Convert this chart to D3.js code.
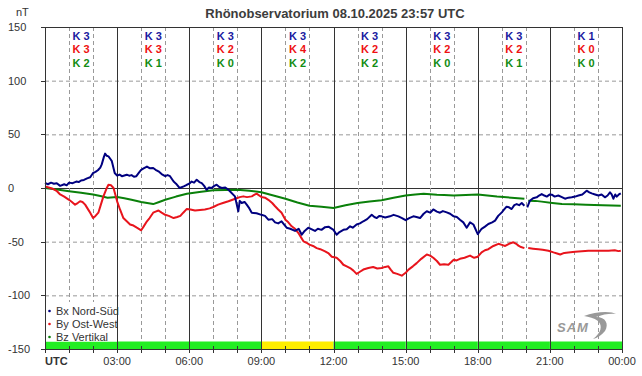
<!DOCTYPE html>
<html>
<head>
<meta charset="utf-8">
<script src="https://cdn.jsdelivr.net/npm/d3@7"></script>
<style>
  body { margin: 0; background: #fff; }
  svg { display: block; font-family: Arial, "Liberation Sans", sans-serif; }
</style>
</head>
<body>
<div class="container"></div>
<script>
// ---- data ----
const title = 'Rhönobservatorium 08.10.2025 23:57 UTC';
const hourTicks = d3.range(0, 25, 1);
const hourLabels = ['UTC', '03:00', '06:00', '09:00', '12:00', '15:00', '18:00', '21:00', '00:00'];
const valueTicks = [-150, -100, -50, 0, 50, 100, 150];

// K index per 3-hour block
const kBx = [3, 3, 3, 3, 3, 3, 3, 1];
const kBy = [3, 3, 2, 4, 2, 2, 2, 0];
const kBz = [2, 1, 0, 2, 2, 0, 1, 0];
// activity status bar per 3-hour block
const status = ['green', 'green', 'green', 'yellow', 'green', 'green', 'green', 'green'];

const seriesNames = ['Bx Nord-Süd', 'By Ost-West', 'Bz Vertikal'];

// [hour, nT]; null = data gap
const bx = [[0,4.7],[0.12,3.5],[0.25,5],[0.37,4],[0.49,4.5],[0.63,2],[0.8,3.5],[0.9,2.5],[1,5],[1.15,4.5],[1.3,6],
  [1.4,5.5],[1.5,7],[1.62,7.5],[1.75,9],[1.88,10],[2,14],[2.1,15],[2.2,16.5],[2.3,19],
  [2.36,22],[2.45,29],[2.5,32],[2.57,30],[2.64,29.5],[2.72,27],[2.78,25],[2.9,14],[3,11.5],[3.1,12.5],[3.2,11],
  [3.4,12.4],[3.5,11.5],[3.6,12],[3.7,10.5],[3.8,11],[3.9,14],[4,17],[4.12,18.5],[4.24,20],[4.35,18.5],
  [4.5,18.6],[4.6,17],[4.72,15.5],[4.85,13],[5,11],[5.1,12],[5.2,11],[5.35,6],[5.45,4],[5.6,0],[5.77,1.5],[5.9,3],
  [6,4],[6.1,6],[6.2,5],[6.31,7.7],[6.42,5.5],[6.52,4.6],[6.62,2],
  [6.72,-1.6],[6.82,0.5],[6.93,0],[7.04,2],[7.14,3],[7.25,1],[7.35,0],[7.5,0.5],[7.63,-1.6],[7.9,-7.8],[8.04,-21.8],
  [8.1,-12],[8.18,-14],[8.3,-13],[8.39,-15.5],[8.5,-19],[8.6,-23],[8.8,-23.5],
  [9,-25],[9.15,-26],[9.29,-29.5],[9.45,-29],[9.57,-32],[9.7,-33],[9.84,-31],[10.05,-37],[10.2,-38],[10.4,-40],
  [10.55,-38],[10.68,-43.5],[10.8,-40],[10.95,-37],[11.1,-38.5],[11.23,-40],[11.35,-38],
  [11.5,-39],[11.65,-36.5],[11.79,-36],[12,-39],[12.13,-43.5],[12.25,-41],[12.41,-39],[12.55,-38.5],[12.69,-35.7],
  [12.8,-37],[12.96,-34],[13.1,-33],[13.24,-31],[13.4,-29],[13.59,-25],[13.7,-27],
  [13.8,-28],[13.9,-26],[14,-26.4],[14.15,-27.5],[14.35,-26.4],[14.5,-25],[14.7,-26.4],[14.85,-28],[15,-30],
  [15.15,-28],[15.32,-26.4],[15.45,-27],[15.6,-28],[15.75,-24],[15.88,-21.7],[16.02,-23],[16.15,-20],
  [16.3,-22],[16.43,-23],[16.55,-21.5],[16.71,-22.7],[16.85,-24],[17,-26.4],[17.13,-27],[17.26,-29.5],[17.4,-32],
  [17.54,-37],[17.68,-32],[17.82,-34],[18,-43],[18.16,-38],[18.3,-36],[18.44,-33.5],
  [18.6,-32],[18.72,-30.4],[18.85,-26],[19,-22.7],[19.1,-20],[19.2,-17.4],[19.3,-18],[19.41,-19.6],[19.52,-16],
  [19.62,-15],[19.72,-16],[19.83,-14],[19.94,-16.5],[19.97,null],
  [20.06,-18],[20.17,-11.8],[20.3,-9.5],[20.45,-8.7],[20.55,-7],[20.66,-5.6],[20.77,-7],[20.87,-8],[21,-6],
  [21.08,-6.2],[21.2,-8],[21.35,-7],[21.5,-8.5],[21.63,-10],[21.77,-9],[21.91,-8.7],[22.05,-8],
  [22.19,-7],[22.35,-6],[22.53,-2.5],[22.64,-4],[22.74,-5],[22.88,-6],[23.02,-7],[23.15,-6],[23.29,-8.7],[23.4,-7],
  [23.5,-4],[23.57,-6],[23.64,-10],[23.72,-6],[23.78,-8],[23.87,-6],[23.95,-5]];

const by = [[0,1.5],[0.15,0.5],[0.35,-1],[0.5,-3],[0.63,-6],[0.8,-8],[1,-11],[1.12,-13],[1.25,-15.5],[1.36,-14],
  [1.46,-12.4],[1.56,-13],[1.67,-15.5],[1.85,-22],[2,-28],[2.1,-26],[2.22,-23],
  [2.33,-15],[2.43,-7.8],[2.55,-1],[2.64,3],[2.75,2.5],[2.85,0],[3,-12.4],[3.12,-20],[3.26,-28],[3.4,-31],[3.54,-34],
  [3.68,-35],[3.82,-37],[4,-39.4],[4.1,-36],[4.24,-31],[4.35,-28],[4.5,-23],[4.6,-22],
  [4.72,-21],[4.85,-23],[5,-25],[5.15,-26],[5.35,-28],[5.5,-27],[5.63,-26],[5.75,-23],[5.9,-19.5],[6.05,-20],
  [6.24,-21],[6.45,-20.5],[6.65,-20],[6.85,-19],[7,-17.7],[7.2,-15.5],[7.4,-14],[7.63,-12.4],
  [7.8,-11],[8,-9.3],[8.1,-8.5],[8.25,-7.8],[8.4,-8.5],[8.6,-7.8],[8.7,-6.5],[8.8,-5.3],[9,-8.4],[9.15,-9],
  [9.29,-11],[9.45,-14],[9.57,-17],[9.7,-20],[9.84,-23],[10,-29.5],[10.12,-32],[10.26,-35.7],
  [10.4,-38],[10.54,-42],[10.65,-46],[10.75,-49.7],[10.88,-51],[11,-52.8],[11.15,-54],[11.3,-56],[11.45,-57],
  [11.65,-59],[11.8,-61],[11.93,-64],[12.13,-65],[12.28,-68],[12.41,-71.5],[12.55,-73],[12.69,-74.6],
  [12.83,-77],[12.96,-80],[13.1,-78],[13.24,-76],[13.45,-74.5],[13.65,-73.6],[13.82,-75],[14,-74.6],[14.15,-73.5],
  [14.28,-73],[14.38,-76],[14.49,-79],[14.65,-80],[14.84,-81.7],[15,-79],[15.12,-76],[15.3,-73],[15.46,-70],
  [15.65,-66],[15.88,-62],[16.02,-63],[16.15,-65],[16.3,-68],[16.43,-71.5],[16.6,-71],[16.78,-71.5],[16.9,-69],
  [17,-66.8],[17.12,-67.5],[17.26,-66],[17.45,-65],[17.68,-63],[17.85,-65],[18,-64],[18.16,-60],
  [18.3,-58],[18.44,-57],[18.65,-54],[18.86,-52],[19,-53],[19.14,-54],[19.3,-52],[19.48,-50.6],[19.6,-52],
  [19.69,-53.7],[19.8,-55],[19.94,-56],[19.97,null],[20.1,-56],[20.3,-56.5],[20.52,-57],[20.7,-57.5],
  [20.94,-58.4],[21.15,-60],[21.3,-61],[21.43,-62],[21.6,-60.5],[21.77,-60],[22.05,-59.5],[22.33,-59],[22.6,-58.5],
  [22.9,-58.4],[23.15,-58.5],[23.44,-58.4],[23.7,-58],[23.85,-58.8],[23.95,-58.4]];

const bz = [[0,0],[0.5,-1.5],[1,-3],[1.5,-4.5],[2,-6],[2.3,-7.5],[2.6,-9],[3,-8.4],[3.3,-9.5],[3.6,-11],[4,-13],
  [4.25,-14],[4.5,-15],[4.75,-13],[5,-11],[5.45,-8],[5.9,-5.3],[6.5,-3.5],[7,-2.2],[7.5,-1.8],
  [8,-1.6],[8.5,-2.5],[9,-4],[9.5,-7],[10,-10],[10.5,-13.5],[11,-16.5],[11.5,-17.5],[12,-18.6],[12.5,-16],
  [13,-14],[13.5,-12.5],[14,-11.5],[14.5,-9],[15,-7],[15.4,-6],[15.75,-5.3],[16.3,-6.2],[16.6,-6.5],[17,-7],
  [17.5,-6.5],[18,-6],[18.4,-7],[18.8,-8],[19.4,-9],[19.94,-10],[19.97,null],[20.1,-11.8],[20.4,-12],[20.66,-12.7],
  [21.1,-14],[21.5,-15],[22,-15.2],[22.5,-15.5],[23.2,-16],[23.95,-16.5]];

// ---- layout ----
const W = 642, H = 376;
const colors = ['#000080', '#e8141c', '#0a800a'];
const statusColors = { green: '#22ee22', yellow: '#ffee00' };

const svg = d3.select('.container').append('svg')
  .attr('width', W).attr('height', H);

const x = d3.scaleLinear().domain([0, 24]).range([45, 622]);
const y = d3.scaleLinear().domain([-150, 150]).range([349, 27]);

// title
svg.append('text')
  .attr('x', 335).attr('y', 18)
  .attr('text-anchor', 'middle')
  .attr('font-size', 13).attr('font-weight', 'bold')
  .attr('fill', '#3c3c3c')
  .text(title);

svg.append('text')
  .attr('x', 16).attr('y', 16)
  .attr('font-size', 11).attr('fill', '#333')
  .text('nT');

// status bar
svg.selectAll('rect.status')
  .data(status)
  .join('rect')
  .attr('class', 'status')
  .attr('x', (d, i) => x(i * 3))
  .attr('width', x(3) - x(0))
  .attr('y', 341.5).attr('height', y(-150) - 341.5)
  .attr('fill', d => statusColors[d]);

// horizontal grid
svg.append('g')
  .selectAll('line')
  .data(valueTicks.filter(v => v !== -150 && v !== 150))
  .join('line')
  .attr('x1', x(0)).attr('x2', x(24))
  .attr('y1', d => y(d) + 0.5).attr('y2', d => y(d) + 0.5)
  .attr('stroke', d => d === 0 ? '#333' : '#999')
  .attr('stroke-dasharray', d => d === 0 ? null : '4,3');

// vertical grid
svg.append('g')
  .selectAll('line')
  .data(hourTicks.filter(h => h > 0 && h < 24))
  .join('line')
  .attr('x1', d => Math.round(x(d)) + 0.5).attr('x2', d => Math.round(x(d)) + 0.5)
  .attr('y1', y(150)).attr('y2', d => d % 3 === 0 ? y(-150) : 341.5)
  .attr('stroke', d => d % 3 === 0 ? '#333' : '#999')
  .attr('stroke-dasharray', d => d % 3 === 0 ? null : '4,3');

// left ticks + labels
const yAxis = svg.append('g');
yAxis.selectAll('line')
  .data(valueTicks)
  .join('line')
  .attr('x1', 41).attr('x2', x(0))
  .attr('y1', d => Math.round(y(d)) + 0.5).attr('y2', d => Math.round(y(d)) + 0.5)
  .attr('stroke', '#333');
yAxis.selectAll('text')
  .data(valueTicks)
  .join('text')
  .attr('x', 8).attr('y', d => y(d) + 4)
  .attr('font-size', 11).attr('fill', '#333')
  .text(d => d);

// bottom ticks + labels
const xAxis = svg.append('g');
xAxis.selectAll('line')
  .data(hourTicks)
  .join('line')
  .attr('x1', d => Math.round(x(d)) + 0.5).attr('x2', d => Math.round(x(d)) + 0.5)
  .attr('y1', 346).attr('y2', 353)
  .attr('stroke', '#333');
xAxis.selectAll('text')
  .data(hourLabels)
  .join('text')
  .attr('x', (d, i) => i === 0 ? x(0) : x(i * 3))
  .attr('y', 365)
  .attr('text-anchor', (d, i) => i === 0 ? 'start' : 'middle')
  .attr('font-size', 11)
  .attr('font-weight', (d, i) => i === 0 ? 'bold' : 'normal')
  .attr('fill', '#333')
  .text(d => d);

// K indices
[kBx, kBy, kBz].forEach((ks, r) => {
  svg.append('g').selectAll('text')
    .data(ks)
    .join('text')
    .attr('x', (d, i) => x(i * 3 + 1.5))
    .attr('y', 40 + r * 13.3)
    .attr('text-anchor', 'middle')
    .attr('font-size', 11).attr('font-weight', 'bold')
    .attr('fill', ['#1a1aa0', '#ee1111', '#128c12'][r])
    .text(d => 'K ' + d);
});

// series
const line = d3.line()
  .defined(d => d[1] !== null)
  .x(d => x(d[0]))
  .y(d => y(d[1]));

[bz, by, bx].forEach((s, i) => {
  svg.append('path')
    .datum(s)
    .attr('d', line)
    .attr('fill', 'none')
    .attr('stroke', colors[2 - i])
    .attr('stroke-width', 2)
    .attr('stroke-linejoin', 'round');
});

// legend (white box hides the grid behind it)
const legend = svg.append('g');
legend.append('rect')
  .attr('x', x(0) + 1).attr('y', 302)
  .attr('width', Math.round(x(3)) - Math.round(x(0)) - 1).attr('height', 39.5)
  .attr('fill', '#fff');
seriesNames.forEach((name, i) => {
  legend.append('circle')
    .attr('cx', 49.5).attr('cy', 311 + i * 13)
    .attr('r', 1.3).attr('fill', colors[i]);
  legend.append('text')
    .attr('x', 56).attr('y', 315 + i * 13)
    .attr('font-size', 11).attr('fill', '#333')
    .text(name);
});

// frame
svg.append('rect')
  .attr('x', Math.round(x(0)) + 0.5).attr('y', Math.round(y(150)) + 0.5)
  .attr('width', Math.round(x(24)) - Math.round(x(0)))
  .attr('height', Math.round(y(-150)) - Math.round(y(150)))
  .attr('fill', 'none').attr('stroke', '#333');

// SAM logo
const logo = svg.append('g').attr('fill', '#999');
logo.append('path')
  .attr('d', 'M584,316 C596,311 612,311 616,314 C612,313 603,314 596,317 C606,317 609,324 605,331 C602,335 597,338 593,339 C601,333 603,326 598,321 C594,318 589,317 584,316 Z');
logo.append('text')
  .attr('x', 557).attr('y', 332)
  .attr('font-size', 13).attr('font-style', 'italic').attr('font-weight', 'bold')
  .attr('letter-spacing', 1)
  .text('SAM');
</script>
</body>
</html>
